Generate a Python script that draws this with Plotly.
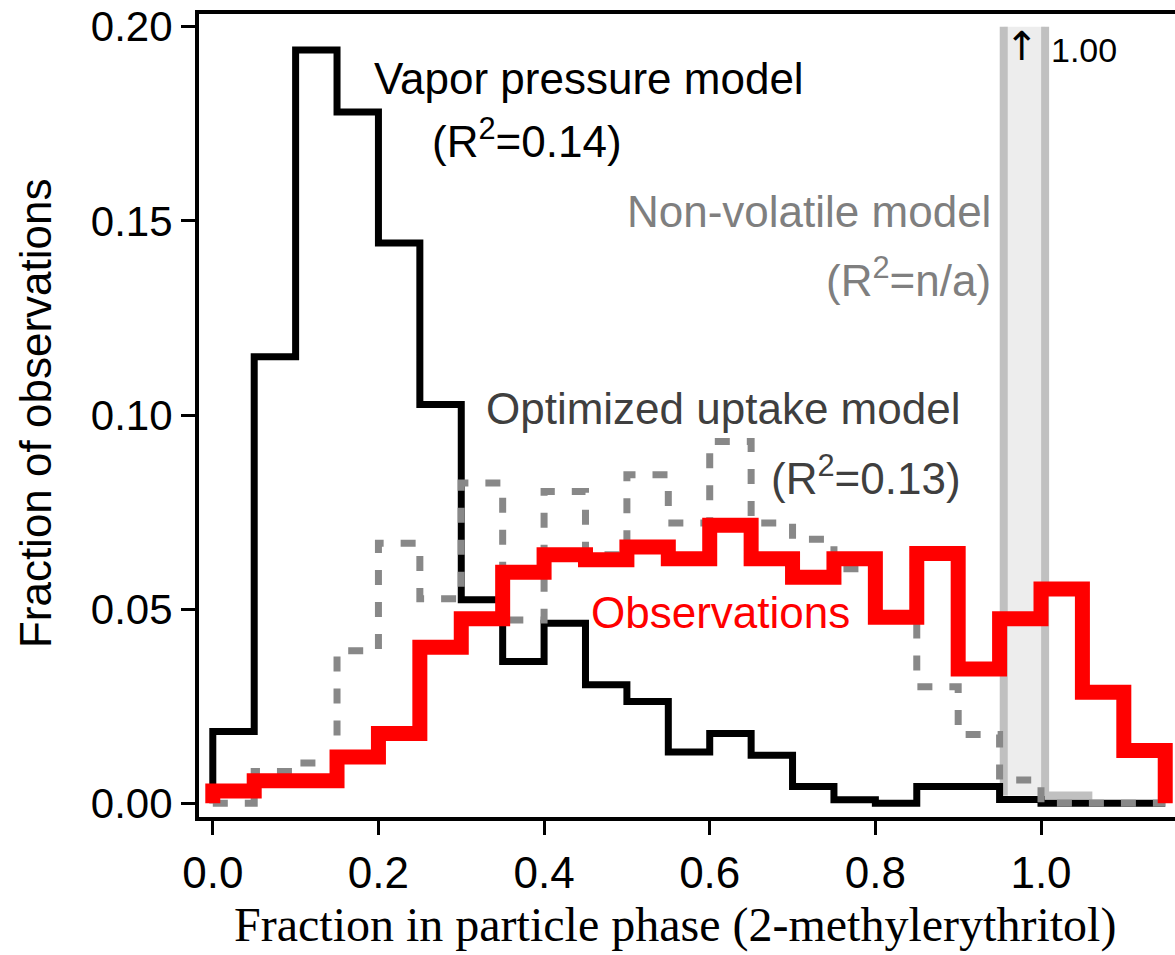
import plotly.graph_objects as go

# Histogram bins (fraction in particle phase), 0.05 wide
BIN_EDGES = [0.00, 0.05, 0.10, 0.15, 0.20, 0.25, 0.30, 0.35, 0.40, 0.45, 0.50, 0.55,
             0.60, 0.65, 0.70, 0.75, 0.80, 0.85, 0.90, 0.95, 1.00, 1.05, 1.10, 1.15]

# Fraction of observations in each bin
VAPOR_PRESSURE = [0.0185, 0.1150, 0.1940, 0.1780, 0.1443, 0.1027, 0.0524, 0.0365,
                  0.0464, 0.0305, 0.0262, 0.0132, 0.0180, 0.0124, 0.0043, 0.0009,
                  0.0000, 0.0043, 0.0043, 0.0010, 0.0000, 0.0000, 0.0000]
OPTIMIZED_UPTAKE = [0.0000, 0.0082, 0.0104, 0.0393, 0.0670, 0.0527, 0.0825, 0.0472,
                    0.0803, 0.0640, 0.0846, 0.0722, 0.0932, 0.0722, 0.0680, 0.0604,
                    0.0480, 0.0300, 0.0177, 0.0060, 0.0000, 0.0000, 0.0000]
OBSERVATIONS = [0.0032, 0.0058, 0.0058, 0.0119, 0.0180, 0.0402, 0.0475, 0.0595,
                0.0640, 0.0627, 0.0660, 0.0630, 0.0716, 0.0630, 0.0582, 0.0630,
                0.0479, 0.0643, 0.0346, 0.0475, 0.0552, 0.0286, 0.0136]

# Non-volatile model: everything in the particle phase
NONVOL_BIN = [0.955, 1.005]
NONVOL_FRACTION = 1.00
NONVOL_TAIL_END = 1.062

X_TICKS = [0.0, 0.2, 0.4, 0.6, 0.8, 1.0]
X_TICK_TEXT = ["0.0", "0.2", "0.4", "0.6", "0.8", "1.0"]
Y_TICKS = [0.00, 0.05, 0.10, 0.15, 0.20]
Y_TICK_TEXT = ["0.00", "0.05", "0.10", "0.15", "0.20"]
Y_SHOWN_MAX = 0.20

SANS = "Liberation Sans, Arial, sans-serif"
SERIF = "Liberation Serif, Times New Roman, serif"


def step_xy(edges, values):
    xs = [edges[0]] + list(edges)
    ys = [0.0] + list(values) + [0.0]
    return xs, ys


fig = go.Figure()

# shaded band for the non-volatile model (off-scale, capped at the top tick)
band_top = min(NONVOL_FRACTION, Y_SHOWN_MAX)
lo, hi = NONVOL_BIN
base = 0.002
fig.add_trace(go.Scatter(
    x=[lo, lo, hi, hi, lo], y=[base, band_top, band_top, base, base],
    mode="lines", fill="toself", fillcolor="#ededed",
    line=dict(width=0, color="#ededed"), hoverinfo="skip"))
fig.add_trace(go.Scatter(
    x=[lo, lo, None, hi, hi, NONVOL_TAIL_END],
    y=[base, band_top, None, band_top, base, base],
    mode="lines", line=dict(color="#c0c0c0", width=8), hoverinfo="skip"))

x, y = step_xy(BIN_EDGES, VAPOR_PRESSURE)
fig.add_trace(go.Scatter(x=x, y=y, mode="lines", line_shape="hv",
                         line=dict(color="#000000", width=7)))

x, y = step_xy(BIN_EDGES, OPTIMIZED_UPTAKE)
fig.add_trace(go.Scatter(x=x, y=y, mode="lines", line_shape="hv",
                         line=dict(color="#888888", width=7, dash="15px,17px")))

x, y = step_xy(BIN_EDGES, OBSERVATIONS)
fig.add_trace(go.Scatter(x=x, y=y, mode="lines", line_shape="hv",
                         line=dict(color="#ff0000", width=15)))


def label(text, x, y, color, size=44, xanchor="center", family=SANS):
    fig.add_annotation(x=x, y=y, xref="x", yref="y", text=text, showarrow=False,
                       xanchor=xanchor, yanchor="middle",
                       font=dict(family=family, size=size, color=color))


label("Vapor pressure model", 0.4545, 0.1867, "#000000")
label("(R<sup>2</sup>=0.14)", 0.3794, 0.1713, "#000000")
label("Non-volatile model", 0.9420, 0.1523, "#7f7f7f", xanchor="right")
label("(R<sup>2</sup>=n/a)", 0.9420, 0.1353, "#7f7f7f", xanchor="right")
label("Optimized uptake model", 0.9045, 0.1018, "#3f3f3f", xanchor="right")
label("(R<sup>2</sup>=0.13)", 0.9058, 0.0843, "#3f3f3f", xanchor="right")
label("Observations", 0.6130, 0.0491, "#ff0000")
label("\u2191", (lo + hi) / 2 - 0.003, 0.1950, "#000000", size=40,
      family="DejaVu Sans, sans-serif")
label(f"{NONVOL_FRACTION:.2f}", 1.0097, 0.1941, "#000000", size=34, xanchor="left")

# axis titles
fig.add_annotation(x=-0.168, y=0.503, xref="paper", yref="paper",
                   text="Fraction of observations", textangle=-90, showarrow=False,
                   xanchor="center", yanchor="middle",
                   font=dict(family=SANS, size=44, color="#000000"))
fig.add_annotation(x=0.4872, y=-0.1706, xref="paper", yref="paper",
                   text="Fraction in particle phase (2-methylerythritol)", showarrow=False,
                   xanchor="center", yanchor="bottom",
                   font=dict(family=SERIF, size=48, color="#000000"))

axis_style = dict(showgrid=False, zeroline=False, ticks="outside", ticklen=14,
                  tickwidth=3, tickcolor="#000000", showline=True, linewidth=4,
                  linecolor="#000000")

fig.update_layout(
    width=1175, height=955,
    margin=dict(l=199, r=0, t=14, b=138),
    paper_bgcolor="white", plot_bgcolor="white",
    showlegend=False,
    xaxis=dict(range=[-0.01666, 1.1618], tickvals=X_TICKS, ticktext=X_TICK_TEXT,
               mirror=True, tickfont=dict(family=SANS, size=44, color="#000000"),
               **axis_style),
    yaxis=dict(range=[-0.003528, 0.20327], tickvals=Y_TICKS, ticktext=Y_TICK_TEXT,
               tickfont=dict(family=SANS, size=42, color="#000000"),
               **axis_style),
)

fig.write_html("out.html")
